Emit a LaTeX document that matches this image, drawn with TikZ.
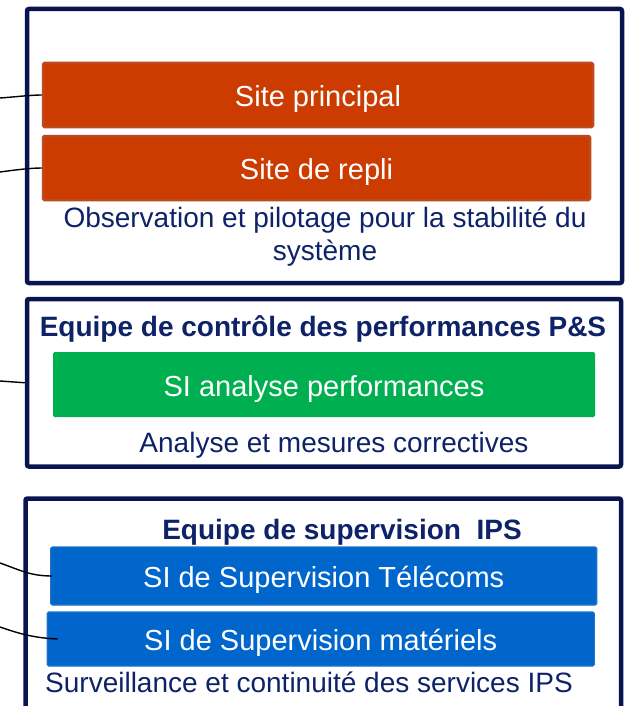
\documentclass[tikz,border=0pt]{standalone}
\usepackage{fontspec}
\setmainfont{Liberation Sans}
\usetikzlibrary{positioning}
\definecolor{navy}{HTML}{0A1450}
\definecolor{navytext}{HTML}{0E2268}
\definecolor{siteorange}{HTML}{CC3C00}
\definecolor{siteedge}{HTML}{BC4A1C}
\definecolor{sigreen}{HTML}{00B050}
\definecolor{siblue}{HTML}{0066CC}
\definecolor{siedge}{HTML}{1A72CE}
\tikzstyle{frame}=[draw=navy,line width=4.5pt,rounded corners=2pt,rectangle]
\tikzstyle{block}=[rectangle,rounded corners=1.5pt,text=white,text height=23pt,text depth=0pt,font=\fontsize{29}{33}\selectfont]
\tikzstyle{site}=[block,fill=siteorange,draw=siteedge,line width=2.5pt]
\tikzstyle{perf}=[block,fill=sigreen]
\tikzstyle{supervision}=[block,fill=siblue,draw=siedge,line width=1.2pt]
\tikzstyle{legend}=[anchor=base,text=navytext,font=\fontsize{28}{33}\selectfont,align=center]
\tikzstyle{title}=[anchor=base,text=navytext,font=\fontsize{28}{34}\selectfont\bfseries]
\tikzstyle{link}=[draw=black,line width=1.4pt]

\begin{document}
\begin{tikzpicture}[x=1pt,y=-1pt]
  \useasboundingbox (0,0) rectangle (628,706);
  % frames
  \node[frame,minimum width=595,minimum height=274] (F1) at (324.5,146) {};
  \node[frame,minimum width=594,minimum height=167.5] (F2) at (324,382.75) {};
  \node[frame,minimum width=595.5,minimum height=230] (F3) at (323.25,613.5) {};
  % observation et pilotage
  \node[site,minimum width=550,minimum height=64] (S1) at (318,95) {Site principal};
  \node[site,minimum width=547,minimum height=64] (S2) at (316.5,168) {Site de repli};
  \node[legend] (L1) at (325,260) {Observation et pilotage pour la stabilité du\\système};
  % performances
  \node[title] (T2) at (323,336) {Equipe de contrôle des performances P\&S};
  \node[perf,minimum width=542,minimum height=65] (P) at (324,384.5) {SI analyse performances};
  \node[legend] (L2) at (334,452) {Analyse et mesures correctives};
  % supervision
  \node[title] (T3) at (342,539) {Equipe de supervision\ \ IPS};
  \node[supervision,minimum width=546,minimum height=58] (B1) at (323.7,576) {SI de Supervision Télécoms};
  \node[supervision,minimum width=547,minimum height=54] (B2) at (320.7,639) {SI de Supervision matériels};
  \node[legend] (L3) at (309,692) {Surveillance et continuité des services IPS};
  % incoming links
  \coordinate (in1) at (0,98);
  \coordinate (in2) at (0,172);
  \coordinate (in3) at (0,381);
  \coordinate (in4) at (0,563);
  \coordinate (in5) at (0,627);
  \draw[link] (in1) .. controls (15,97) and (30,95) .. (S1.west);
  \draw[link] (in2) .. controls (15,170) and (30,168) .. (S2.west);
  \draw[link] (in3) -- (F2.west);
  \draw[link] (in4) .. controls (20,570) and (30,576) .. ([xshift=2]B1.west);
  \draw[link] (in5) .. controls (20,634) and (35,638) .. ([xshift=11]B2.west);
\end{tikzpicture}
\end{document}
